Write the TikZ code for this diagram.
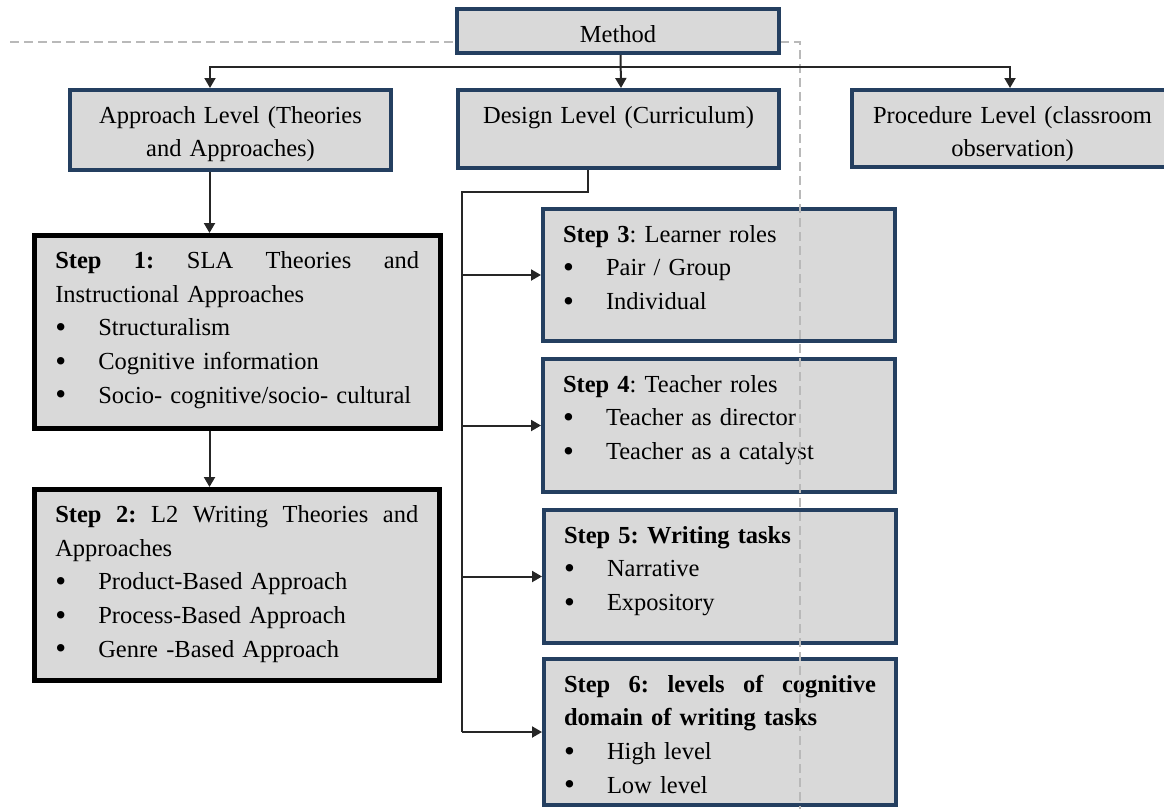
\documentclass[tikz,border=0pt]{standalone}
\usepackage{fontspec}
\setmainfont{Liberation Serif}
\usepackage{tikz}
\usetikzlibrary{arrows.meta,calc,positioning}
\definecolor{boxgray}{HTML}{D9D9D9}
\definecolor{boxnavy}{HTML}{243F60}
\newcommand{\itm}[1]{\makebox[43pt][l]{\raisebox{-1.5pt}{\fontsize{31pt}{0pt}\selectfont\textbullet}}#1}
\newcommand{\spread}[1]{\leavevmode\hbox to\linewidth{#1}}
\frenchspacing

\begin{document}
\begin{tikzpicture}[x=1pt,y=-1pt,>={Triangle[length=10pt,width=11pt]},
  font=\fontsize{24.5pt}{33.75pt}\selectfont\frenchspacing,
  lvlbox/.style={draw=boxnavy,line width=4pt,fill=boxgray,anchor=north west,
    inner xsep=10pt,inner ysep=0pt,align=center,text height=33pt},
  stepbox/.style={lvlbox,align=left,inner xsep=20pt},
  thickbox/.style={stepbox,draw=black,line width=4.5pt,inner xsep=21pt},
  conn/.style={line width=2pt,black!85}]
\useasboundingbox (0,0) rectangle (1164,809);
% level boxes
\node[lvlbox,text width=301pt,text depth=47pt] (approach) at (68,88) {Approach Level (Theories\\and Approaches)};
\node[lvlbox,text width=301pt,text depth=45pt] (design) at (456,88) {Design Level (Curriculum)};
\node[lvlbox,text width=301pt,text depth=44pt] (procedure) at (850,88) {Procedure Level (classroom\\observation)};
% approach steps
\node[thickbox,text width=364pt,text depth=160pt] (step1) at (32,233) {\spread{\textbf{Step}\hfill\textbf{1:}\hfill SLA\hfill Theories\hfill and}\\Instructional Approaches\\\itm{Structuralism}\\\itm{Cognitive information}\\\itm{Socio- cognitive/socio- cultural}};
\node[thickbox,text width=363pt,text depth=158pt] (step2) at (32,487) {\spread{\textbf{Step}\hfill\textbf{2:}\hfill L2\hfill Writing\hfill Theories\hfill and}\\Approaches\\\itm{Product-Based Approach}\\\itm{Process-Based Approach}\\\itm{Genre -Based Approach}};
% design steps
\node[stepbox,text width=312pt,text depth=99pt] (step3) at (541,207) {\textbf{Step 3}: Learner roles\\\itm{Pair / Group}\\\itm{Individual}};
\node[stepbox,text width=312pt,text depth=100pt] (step4) at (541,357) {\textbf{Step 4}: Teacher roles\\\itm{Teacher as director}\\\itm{Teacher as a catalyst}};
\node[stepbox,text width=312pt,text depth=100pt] (step5) at (542,508) {\textbf{Step 5: Writing tasks}\\\itm{Narrative}\\\itm{Expository}};
\node[stepbox,text width=312pt,text depth=113pt] (step6) at (542,657) {\spread{\bfseries Step\hfill 6:\hfill levels\hfill of\hfill cognitive}\\\textbf{domain of writing tasks}\\\itm{High level}\\\itm{Low level}};
% dashed guide
\draw[gray!55,line width=1.5pt,dash pattern=on 9pt off 5pt] (10,42) -- (800,42) -- (800,809);
\node[lvlbox,text width=302pt,text depth=11pt] (method) at (455,7) {Method};
% connectors
\coordinate (bus) at ($([xshift=2.5pt]method.south)+(0,12)$);
\draw[conn,->] ([xshift=2.5pt]method.south) -- ([xshift=2.5pt]design.north);
\draw[conn,->] (bus) -| ([xshift=-20.5pt]approach.north);
\draw[conn,->] (bus) -| ([xshift=-2.5pt]procedure.north);
\coordinate (acol) at ([xshift=-21pt]approach.south);
\draw[conn,->] (acol) -- (acol |- step1.north);
\draw[conn,->] (acol |- step1.south) -- (acol |- step2.north);
\coordinate (spine) at (462,192);
\draw[conn] ([xshift=-30.5pt]design.south) |- (spine) -- (spine |- step6.west);
\foreach \s in {step3,step4,step5,step6}
  \draw[conn,->] (spine |- \s.west) -- (\s.west);
\end{tikzpicture}
\end{document}
